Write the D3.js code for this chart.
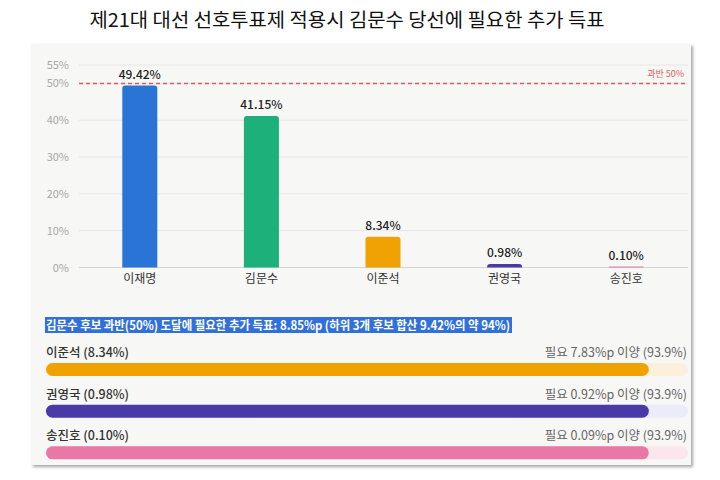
<!DOCTYPE html>
<html><head><meta charset="utf-8">
<script src="https://cdn.jsdelivr.net/npm/d3@7"></script>
<style>
html,body{margin:0;padding:0;background:#fff;}
svg{display:block;font-family:"Noto Sans CJK KR","Noto Sans",sans-serif;}
</style></head>
<body><svg id="c" width="720" height="480"></svg>
<script>
const title = "제21대 대선 선호투표제 적용시 김문수 당선에 필요한 추가 득표";
const candidates = ["이재명","김문수","이준석","권영국","송진호"];
const shares = [49.42, 41.15, 8.34, 0.98, 0.10];
const barColors = ["#2a74d6","#1db07a","#f0a202","#4a3aa8","#e879a6"];
const yTicks = [0,10,20,30,40,50,55];
const majority = 50;
const summary = "김문수 후보 과반(50%) 도달에 필요한 추가 득표: 8.85%p (하위 3개 후보 합산 9.42%의 약 94%)";
const transferNames = ["이준석","권영국","송진호"];
const transferShares = [8.34, 0.98, 0.10];
const transferNeeded = [7.83, 0.92, 0.09];
const transferPct = [93.9, 93.9, 93.9];
const trackColors = ["#fcefdb","#ecebfa","#fbe6ee"];
const fillColors = ["#f0a202","#4a3aa8","#e879a6"];

const svg = d3.select("#c");
const defs = svg.append("defs");
const f = defs.append("filter").attr("id","sh").attr("x","-5%").attr("y","-5%").attr("width","110%").attr("height","110%");
f.append("feDropShadow").attr("dx",2).attr("dy",2).attr("stdDeviation",1.5).attr("flood-color","#000").attr("flood-opacity",0.35);

svg.append("text").attr("x",347).attr("y",27).attr("text-anchor","middle")
  .attr("font-size",19).attr("fill","#111").attr("textLength",515).attr("lengthAdjust","spacingAndGlyphs").text(title);

svg.append("rect").attr("x",31).attr("y",44).attr("width",660).attr("height",421)
  .attr("fill","#f7f7f5").attr("filter","url(#sh)");

const x = d3.scaleBand().domain(candidates).range([79,687]).paddingInner(0.712).paddingOuter(0.356);
const y = d3.scaleLinear().domain([0,55]).range([267.5,65]);

// grid
svg.append("g").selectAll("line").data(yTicks.filter(d=>d>0)).join("line")
  .attr("x1",79).attr("x2",688).attr("y1",d=>y(d)).attr("y2",d=>y(d))
  .attr("stroke","#e6e6e4").attr("stroke-width",1);
const yAxis = d3.axisLeft(y).tickValues(yTicks).tickFormat(d=>d+"%").tickSize(0).tickPadding(10);
const ya = svg.append("g").attr("transform","translate(79,0)").call(yAxis);
ya.select(".domain").remove();
ya.selectAll("text").attr("font-size",11).attr("fill","#a8a8a8").attr("font-family","Noto Sans CJK KR");

// baseline
svg.append("line").attr("x1",79).attr("x2",688).attr("y1",y(0)).attr("y2",y(0)).attr("stroke","#d4d4d2").attr("stroke-width",1.2);

// bars
const r = 3;
function topRounded(x0,y0,w,h){
  const rr = Math.min(r,h,w/2);
  return `M${x0},${y0+h}V${y0+rr}Q${x0},${y0} ${x0+rr},${y0}H${x0+w-rr}Q${x0+w},${y0} ${x0+w},${y0+rr}V${y0+h}Z`;
}
svg.append("g").selectAll("path").data(candidates).join("path")
  .attr("d",(d,i)=>{const h=Math.max(y(0)-y(shares[i]),1);return topRounded(x(d),y(0)-h,x.bandwidth(),h);})
  .attr("fill",(d,i)=>barColors[i]);
svg.append("g").selectAll("text").data(candidates).join("text")
  .attr("x",d=>x(d)+x.bandwidth()/2).attr("y",(d,i)=>y(shares[i])-7)
  .attr("text-anchor","middle").attr("font-size",12).attr("font-weight",500).attr("fill","#222")
  .text((d,i)=>shares[i].toFixed(2)+"%");
const xAxis = d3.axisBottom(x).tickSize(0).tickPadding(7);
const xa = svg.append("g").attr("transform",`translate(0,${y(0)})`).call(xAxis);
xa.select(".domain").remove();
xa.selectAll("text").attr("font-size",12).attr("fill","#333").attr("font-family","Noto Sans CJK KR");

// majority line
svg.append("line").attr("x1",79).attr("x2",688).attr("y1",y(majority)).attr("y2",y(majority))
  .attr("stroke","#e05a5a").attr("stroke-width",1.5).attr("stroke-dasharray","4,3");
svg.append("text").attr("x",684).attr("y",y(majority)-6).attr("text-anchor","end")
  .attr("font-size",9).attr("fill","#e06060").text("과반 "+majority+"%");

// summary
const hl = svg.append("rect").attr("x",45).attr("y",317).attr("height",16).attr("fill","#3170d9");
const st = svg.append("text").attr("x",46).attr("y",329.5).attr("font-size",12.5).attr("font-weight",600)
  .attr("fill","#fff").attr("textLength",464).attr("lengthAdjust","spacingAndGlyphs").text(summary);
hl.attr("width",467);

// transfer bars
const bx = d3.scaleLinear().domain([0,100]).range([46,688]);
const rowY = d3.scaleBand().domain(transferNames).range([346,471]).paddingInner(0);
const rows = svg.append("g");
transferNames.forEach((n,i)=>{
  const ty = rowY(n);
  rows.append("text").attr("x",46).attr("y",ty+11).attr("font-size",12.5).attr("font-weight",500).attr("fill","#333")
    .text(`${n} (${transferShares[i].toFixed(2)}%)`);
  rows.append("text").attr("x",687).attr("y",ty+11).attr("text-anchor","end").attr("font-size",12.5).attr("fill","#666")
    .text(`필요 ${transferNeeded[i].toFixed(2)}%p 이양 (${transferPct[i].toFixed(1)}%)`);
  rows.append("rect").attr("x",bx(0)).attr("y",ty+17).attr("width",bx(100)-bx(0)).attr("height",13)
    .attr("rx",6.5).attr("fill",trackColors[i]);
  rows.append("rect").attr("x",bx(0)).attr("y",ty+17).attr("width",bx(transferPct[i])-bx(0)).attr("height",13)
    .attr("rx",6.5).attr("fill",fillColors[i]);
});
</script></body></html>
